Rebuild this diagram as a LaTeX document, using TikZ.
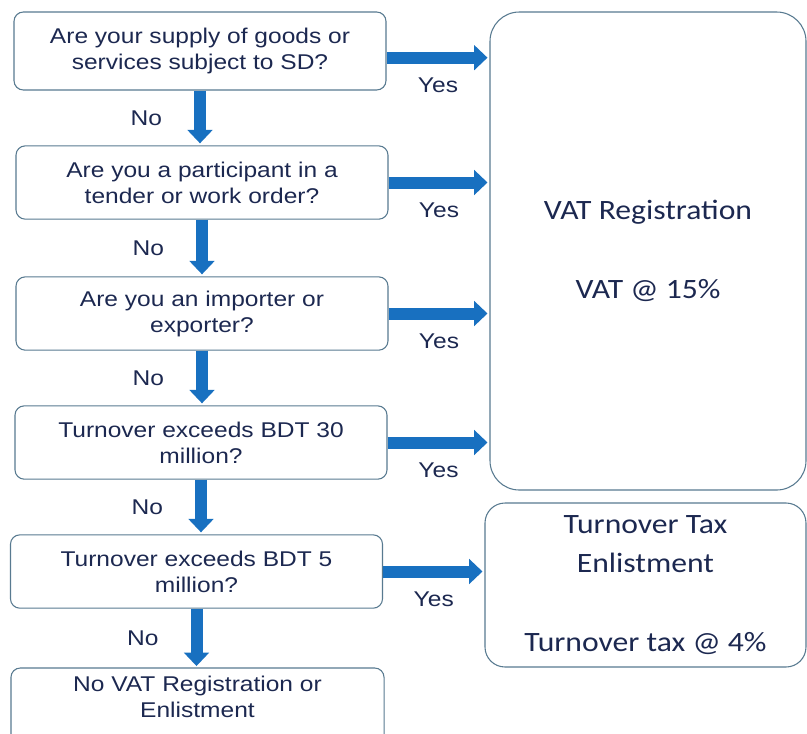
\documentclass[tikz,border=0pt]{standalone}
\usepackage{fontspec}
\setmainfont{Liberation Sans}[FakeStretch=1.15]
\newfontfamily\resultfont{Carlito}[FakeStretch=1.13]
\usetikzlibrary{arrows.meta}
\usetikzlibrary{positioning}
\definecolor{arrowblue}{HTML}{1870C0}
\definecolor{boxline}{HTML}{587A90}
\definecolor{textnavy}{HTML}{1C2850}
\tikzstyle{question} = [rectangle, rounded corners=7pt, draw=boxline, line width=0.8pt, text=textnavy, align=center, minimum width=279pt, minimum height=55pt, inner sep=0pt, font=\fontsize{16}{19.5}\selectfont]
\tikzstyle{result} = [rectangle, draw=boxline, line width=0.8pt, text=textnavy, align=center, inner sep=0pt, font=\resultfont\fontsize{21}{29.4}\selectfont]
\tikzstyle{box_outline} = [draw=boxline, line width=0.8pt, rounded corners=7pt]
\tikzstyle{block_arrow} = [arrowblue, line width=9pt, -{Triangle[width=19pt, length=10pt, line width=0pt]}, shorten >=1.5pt]
\tikzstyle{yes_label} = [below=10.5pt, inner sep=0pt, text=textnavy, font=\fontsize{16}{19}\selectfont]
\tikzstyle{no_label} = [left=24pt, inner sep=0pt, text=textnavy, font=\fontsize{16}{19}\selectfont]

\begin{document}
\begin{tikzpicture}[x=0.75pt, y=-0.75pt]

    \useasboundingbox (0,0) rectangle (807,733);

    % questions
    \node (supply) [question, minimum height=58.5pt] at (200,51) {Are your supply of goods or\\services subject to SD?};
    \node (tender) [question] at (202,182.5) {Are you a participant in a\\tender or work order?};
    \node (importer) [question] at (202,313.5) {Are you an importer or\\exporter?};
    \node (over30) [question] at (201,442.5) {Turnover exceeds BDT 30\\million?};
    \node (over5) [question] at (196.5,571.5) {Turnover exceeds BDT 5\\million?};
    \node (novat) [question, draw=none, anchor=north, minimum height=42pt] at (197.5,668) {No VAT Registration or\\Enlistment};
    \draw [box_outline] (novat.north west) rectangle ([yshift=-40pt]novat.south east);

    % results
    \node (vatreg) [result, rounded corners=22pt, minimum width=237pt, minimum height=358.5pt] at (648,251) {VAT Registration\\[29.4pt]VAT @ 15\%};
    \node (tottax) [result, rounded corners=15pt, minimum width=240.75pt, minimum height=123pt] at (645.5,585) {Turnover Tax\\Enlistment\\[29.4pt]Turnover tax @ 4\%};

    \draw [block_arrow] (supply.south) -- (supply.south |- tender.north) node [midway, no_label] {No};
    \draw [block_arrow] (tender.south) -- (tender.south |- importer.north) node [midway, no_label] {No};
    \draw [block_arrow] (importer.south) -- (importer.south |- over30.north) node [midway, no_label] {No};
    \draw [block_arrow] (over30.south) -- (over30.south |- over5.north) node [midway, no_label] {No};
    \draw [block_arrow] (over5.south) -- (over5.south |- novat.north) node [midway, no_label] {No};

    \draw [block_arrow] ([yshift=-5pt]supply.east) -- ([yshift=-5pt]supply.east -| vatreg.west) node [midway, yes_label] {Yes};
    \draw [block_arrow] (tender.east) -- (tender.east -| vatreg.west) node [midway, yes_label] {Yes};
    \draw [block_arrow] (importer.east) -- (importer.east -| vatreg.west) node [midway, yes_label] {Yes};
    \draw [block_arrow] (over30.east) -- (over30.east -| vatreg.west) node [midway, yes_label] {Yes};
    \draw [block_arrow] (over5.east) -- (over5.east -| tottax.west) node [midway, yes_label] {Yes};

\end{tikzpicture}
\end{document}
